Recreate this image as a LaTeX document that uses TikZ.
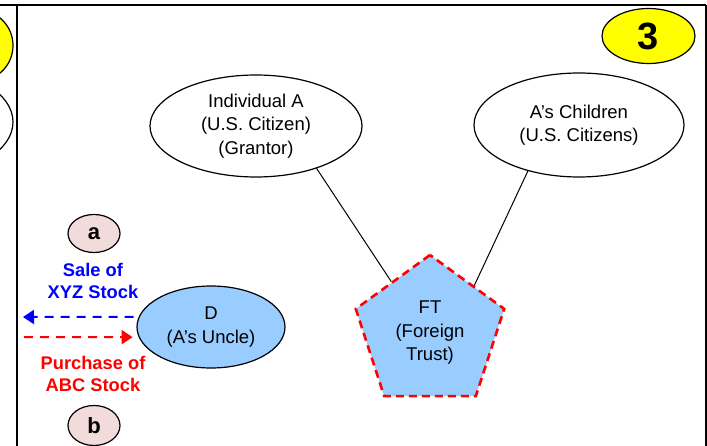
\documentclass[tikz,border=0pt]{standalone}
\usepackage{fontspec}
\setmainfont{Liberation Sans}
\usetikzlibrary{shapes.geometric,arrows.meta}
\definecolor{skyfill}{HTML}{99CCFF}
\definecolor{badge}{HTML}{FFFF00}
\definecolor{tagfill}{HTML}{F2DCDB}
\begin{document}
\begin{tikzpicture}[x=1pt,y=-1pt,
  txt/.style={font=\fontsize{18.5}{23.5}\selectfont, align=center},
  party/.style={ellipse, draw=black, line width=1.2pt, inner sep=0pt, txt},
  tag/.style={ellipse, draw=black, line width=1.2pt, fill=tagfill, inner sep=0pt,
    minimum width=52pt, font=\fontsize{22}{24}\selectfont\bfseries},
  frame/.style={line width=2.5pt, black},
  link/.style={line width=1pt, black},
  flow/.style={line width=2pt, dash pattern=on 9pt off 7pt,
    -{Triangle[length=11pt,width=14pt]}},
  flowlabel/.style={font=\fontsize{18.3}{22}\selectfont\bfseries, align=center}
]
\useasboundingbox (0,0) rectangle (707,446);

% panel frame
\draw[frame] (0,5) -- (706,5);
\draw[line width=2pt] (17,5) -- (17,446);
\draw[frame] (706,5) -- (706,446);

% shapes of the neighbouring panel
\begin{scope}
  \clip (0,6.5) rectangle (16,446);
  \draw[line width=1.2pt, fill=badge] (-21,45.5) ellipse [x radius=34, y radius=35];
  \draw[line width=1.2pt] (-71,122) ellipse [x radius=84, y radius=51];
\end{scope}

% parties
\node[party, minimum width=212pt, minimum height=102pt] (ia) at (256,126)
  {Individual A\\(U.S. Citizen)\\(Grantor)};
\node[party, minimum width=210pt, minimum height=104pt] (kids) at (579,125)
  {A's Children\\(U.S. Citizens)};
\node[regular polygon, regular polygon sides=5, minimum size=156pt, inner sep=0pt,
  fill=skyfill, draw=red, line width=2.6pt, dash pattern=on 8pt off 5pt, txt]
  (ft) at (430,333) {FT\\(Foreign\\Trust)};
\node[party, fill=skyfill, minimum width=148pt, minimum height=82pt] (d) at (211,327)
  {D\\(A's Uncle)};

% step badge
\node[ellipse, draw=black, line width=1.2pt, fill=badge, inner sep=0pt,
  minimum width=93pt, minimum height=55pt,
  font=\fontsize{38}{40}\selectfont\bfseries] (badge3) at (648.5,36) {3};

% relationships
\draw[link] (ia.-35.4) -- (ft.127);
\draw[link] (kids.-138.6) -- (ft.47.8);

% transactions with D
\coordinate (sellend) at (23,317);
\coordinate (buystart) at (24,337);
\draw[flow, blue, shorten <=5pt] (d.172) -- (sellend);
\draw[flow, red, shorten >=6pt] (buystart) -- (d.188);

\node[flowlabel, text=blue] (selllbl) at (93,281) {Sale of\\XYZ Stock};
\node[flowlabel, text=red] (buylbl) at (93,374) {Purchase of\\ABC Stock};

\node[tag, minimum height=38pt] (ta) at (94,233.5) {a};
\node[tag, minimum height=40pt] (tb) at (94,425.5) {b};
\end{tikzpicture}
\end{document}
